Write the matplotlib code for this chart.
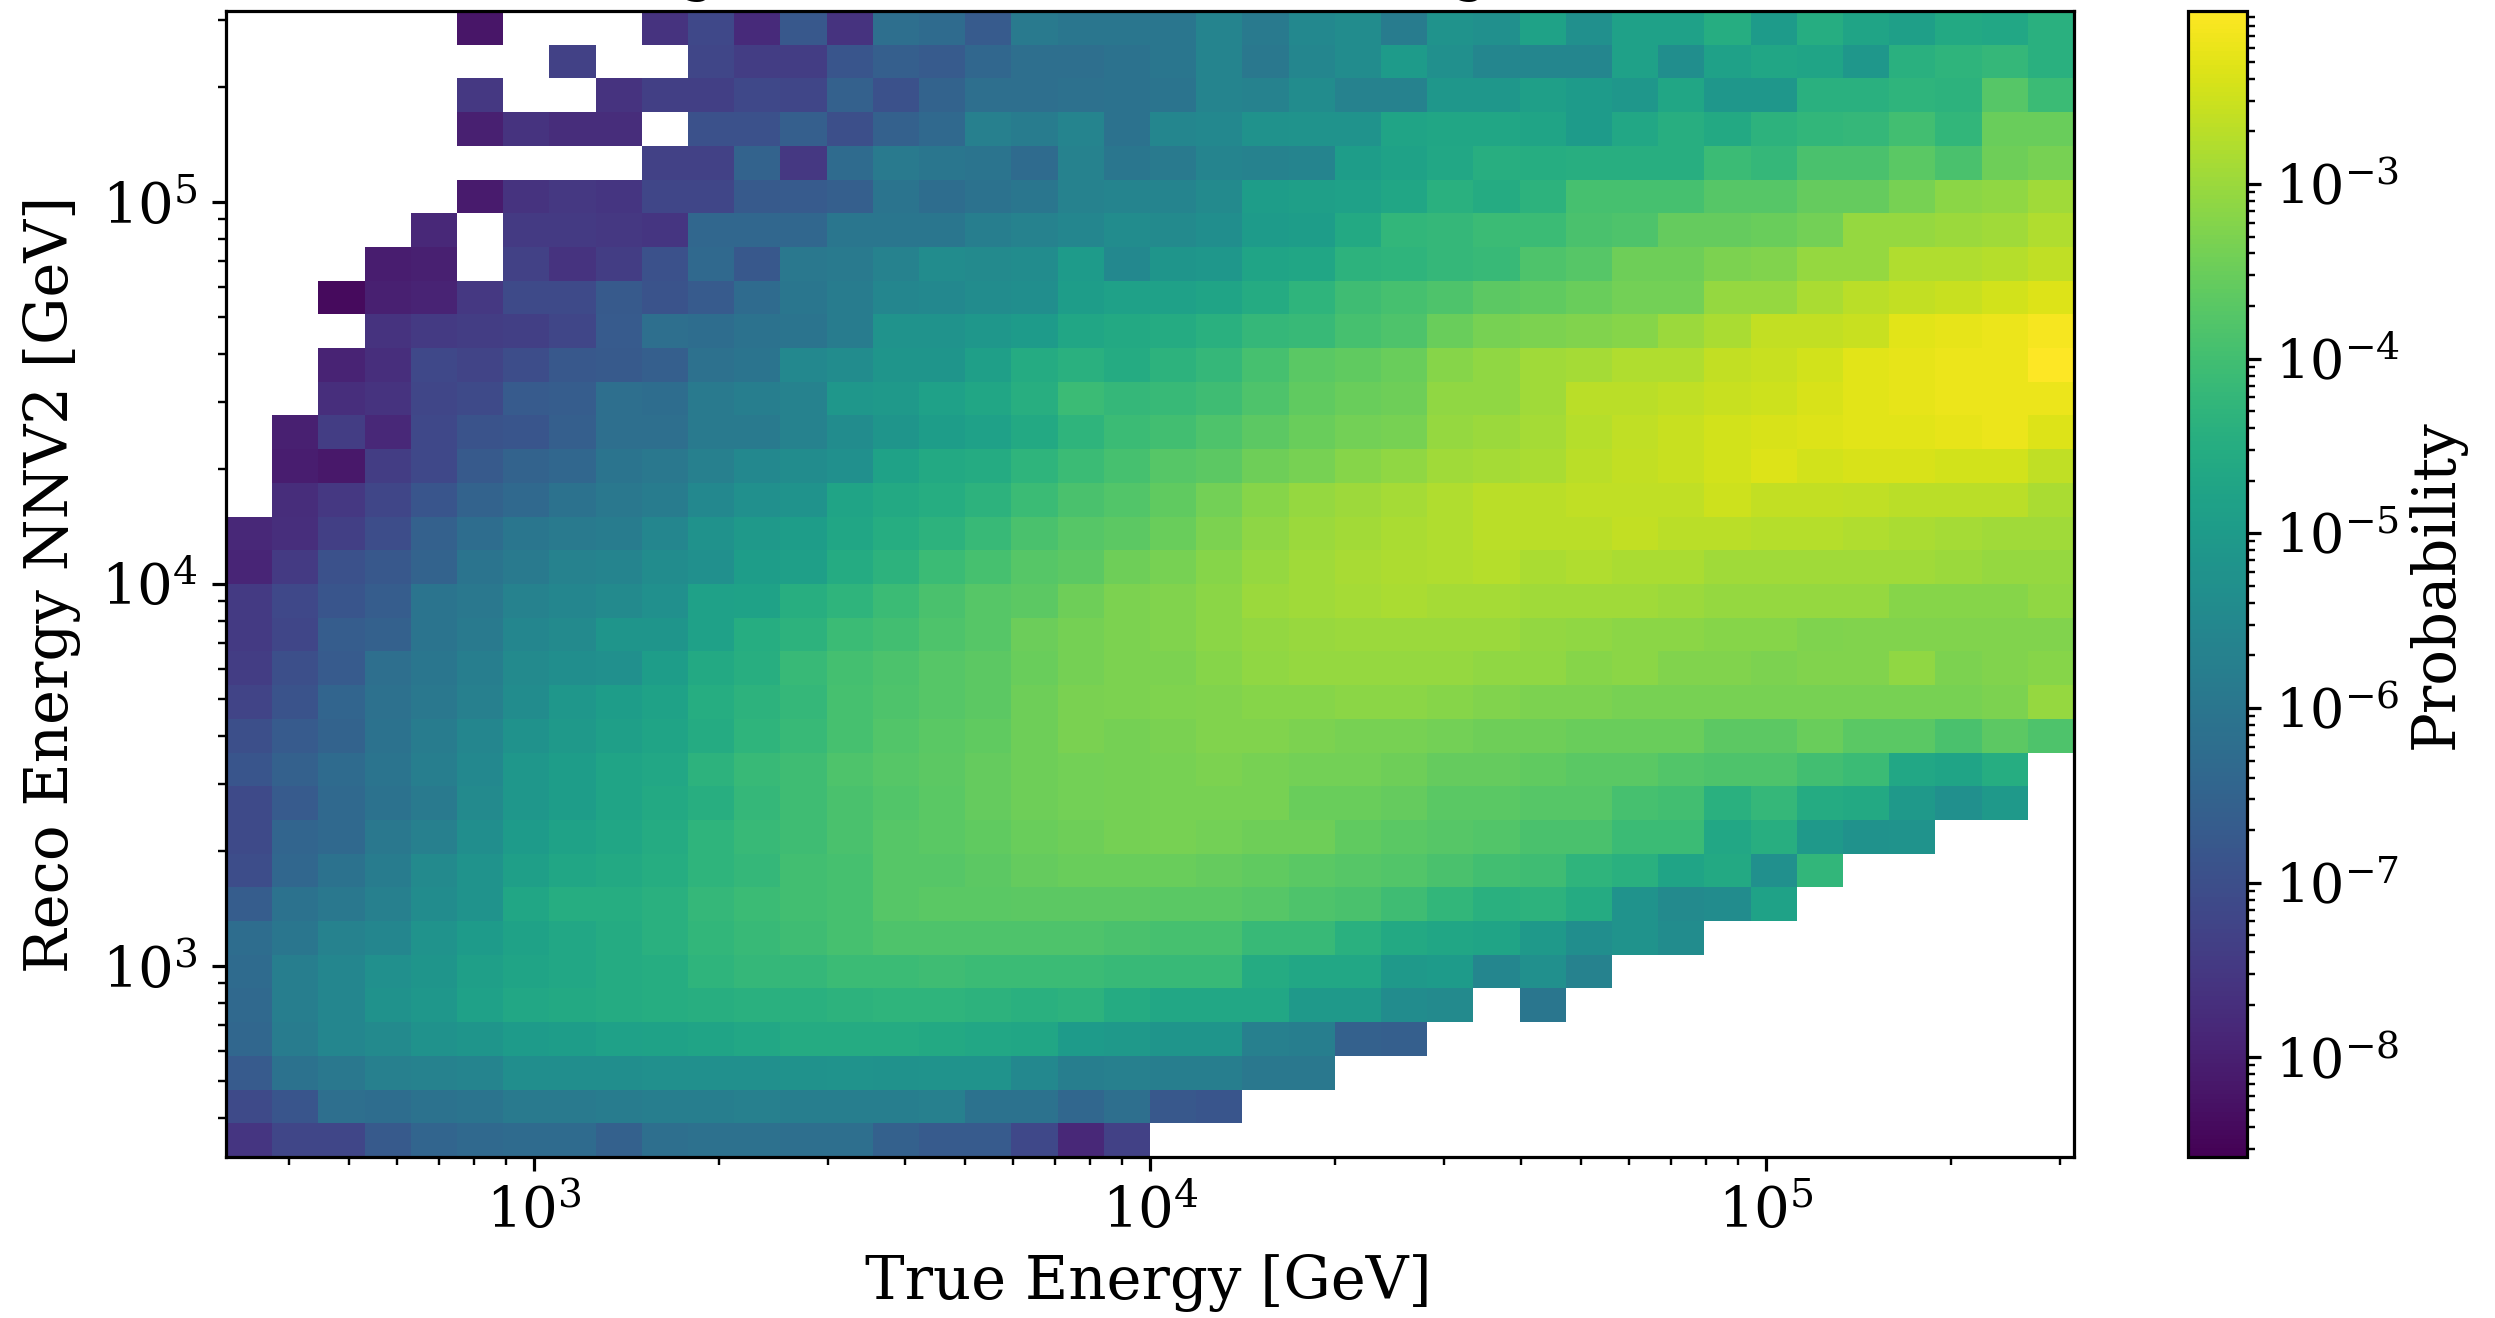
import numpy as np
import matplotlib
matplotlib.use("Agg")
import matplotlib.pyplot as plt
from matplotlib.colors import LogNorm

N = None
# log10(probability) read per cell; rows run from the lowest reco-energy bin up
r00 = [-7.55,-7.2,-7.2,-6.75,-6.45,-6.35,-6.3,-6.3,-6.55,-6.2,-6.15,-6.15,-6.2,-6.2,-6.55,-6.7,-6.7,-7.15,-7.85,-7.3,N,N,N,N,N,N,N,N,N,N,N,N,N,N,N,N,N,N,N,N]
r01 = [-7.1,-6.85,-6.2,-6.25,-6.1,-6.05,-5.9,-5.9,-5.85,-5.8,-5.8,-5.75,-5.8,-5.8,-5.8,-5.75,-6.1,-6.1,-6.4,-6.2,-6.8,-6.85,N,N,N,N,N,N,N,N,N,N,N,N,N,N,N,N,N,N]
r02 = [-6.7,-6.1,-5.95,-5.75,-5.7,-5.6,-5.35,-5.35,-5.35,-5.3,-5.3,-5.3,-5.25,-5.2,-5.25,-5.2,-5.2,-5.5,-5.8,-5.75,-5.8,-5.8,-5.95,-5.95,N,N,N,N,N,N,N,N,N,N,N,N,N,N,N,N]
r03 = [-6.4,-5.85,-5.55,-5.45,-5.25,-5.15,-5.0,-4.95,-4.85,-4.8,-4.75,-4.65,-4.55,-4.55,-4.55,-4.6,-4.65,-4.7,-5.0,-5.05,-5.15,-5.15,-5.75,-5.8,-6.55,-6.6,N,N,N,N,N,N,N,N,N,N,N,N,N,N]
r04 = [-6.35,-5.8,-5.55,-5.25,-5.1,-4.85,-4.65,-4.6,-4.55,-4.5,-4.45,-4.4,-4.4,-4.35,-4.3,-4.3,-4.35,-4.4,-4.35,-4.55,-4.65,-4.65,-4.65,-5.05,-5.05,-5.4,-5.45,N,-6.0,N,N,N,N,N,N,N,N,N,N,N]
r05 = [-6.3,-5.8,-5.55,-5.3,-5.15,-4.9,-4.75,-4.65,-4.55,-4.5,-4.3,-4.2,-4.2,-4.1,-4.1,-4.05,-4.1,-4.1,-4.1,-4.15,-4.15,-4.15,-4.55,-4.65,-4.65,-5.05,-5.0,-5.55,-5.3,-5.65,N,N,N,N,N,N,N,N,N,N]
r06 = [-6.25,-6.0,-5.7,-5.55,-5.2,-5.0,-4.8,-4.65,-4.55,-4.4,-4.25,-4.15,-4.05,-3.95,-3.85,-3.85,-3.85,-3.85,-3.85,-3.9,-3.95,-3.95,-4.15,-4.15,-4.4,-4.6,-4.7,-4.75,-5.05,-5.35,-5.2,-5.4,N,N,N,N,N,N,N,N]
r07 = [-6.65,-6.1,-5.95,-5.75,-5.4,-5.2,-4.7,-4.5,-4.5,-4.4,-4.2,-4.1,-4.0,-3.95,-3.75,-3.7,-3.7,-3.65,-3.65,-3.65,-3.7,-3.7,-3.75,-3.85,-3.9,-4.05,-4.25,-4.4,-4.35,-4.55,-5.2,-5.45,-5.4,-4.8,N,N,N,N,N,N]
r08 = [-7.05,-6.4,-6.1,-5.85,-5.45,-5.2,-4.9,-4.7,-4.6,-4.5,-4.3,-4.2,-4.0,-3.95,-3.75,-3.75,-3.65,-3.55,-3.5,-3.5,-3.5,-3.55,-3.6,-3.7,-3.75,-3.8,-3.9,-4.0,-4.05,-4.3,-4.4,-4.75,-4.6,-5.3,-4.25,N,N,N,N,N]
r09 = [-7.1,-6.45,-6.35,-5.95,-5.75,-5.35,-5.0,-4.8,-4.7,-4.55,-4.3,-4.15,-4.05,-3.9,-3.75,-3.7,-3.6,-3.5,-3.45,-3.38,-3.35,-3.4,-3.45,-3.45,-3.6,-3.7,-3.75,-3.8,-3.9,-3.9,-4.1,-4.1,-4.65,-4.45,-5.05,-5.25,-5.2,N,N,N]
r10 = [-7.1,-6.7,-6.35,-6.1,-5.9,-5.45,-5.1,-4.95,-4.75,-4.6,-4.45,-4.2,-4.05,-3.9,-3.8,-3.7,-3.55,-3.45,-3.4,-3.38,-3.35,-3.35,-3.35,-3.5,-3.5,-3.55,-3.7,-3.7,-3.75,-3.75,-3.95,-4.0,-4.4,-4.2,-4.55,-4.6,-5.05,-5.3,-5.05,N]
r11 = [-6.85,-6.55,-6.3,-6.05,-5.8,-5.5,-5.1,-4.95,-4.75,-4.65,-4.35,-4.15,-4.05,-3.85,-3.75,-3.65,-3.55,-3.45,-3.4,-3.38,-3.35,-3.3,-3.35,-3.4,-3.4,-3.45,-3.55,-3.55,-3.6,-3.7,-3.7,-3.8,-3.85,-3.85,-4.0,-4.1,-4.65,-4.75,-4.5,N]
r12 = [-7.0,-6.7,-6.5,-6.1,-5.85,-5.55,-5.25,-5.05,-4.9,-4.75,-4.55,-4.3,-4.15,-3.95,-3.8,-3.7,-3.6,-3.45,-3.33,-3.38,-3.32,-3.25,-3.25,-3.3,-3.35,-3.35,-3.4,-3.45,-3.45,-3.5,-3.5,-3.5,-3.65,-3.65,-3.5,-3.7,-3.7,-3.9,-3.65,-3.85]
r13 = [-7.25,-6.9,-6.45,-6.15,-5.95,-5.75,-5.4,-5.1,-4.95,-4.8,-4.5,-4.35,-4.2,-3.95,-3.85,-3.75,-3.65,-3.47,-3.33,-3.3,-3.28,-3.25,-3.2,-3.2,-3.15,-3.15,-3.2,-3.25,-3.3,-3.3,-3.35,-3.35,-3.35,-3.35,-3.35,-3.35,-3.35,-3.35,-3.3,-3.05]
r14 = [-7.4,-7.0,-6.7,-6.2,-6.0,-5.8,-5.45,-5.35,-5.3,-4.95,-4.6,-4.45,-4.15,-3.98,-3.88,-3.73,-3.65,-3.5,-3.38,-3.3,-3.3,-3.2,-3.1,-3.05,-3.05,-3.05,-3.05,-3.1,-3.1,-3.2,-3.15,-3.25,-3.25,-3.3,-3.25,-3.25,-3.1,-3.3,-3.25,-3.2]
r15 = [-7.45,-7.2,-6.65,-6.55,-6.05,-5.9,-5.55,-5.45,-5.15,-5.15,-4.85,-4.5,-4.35,-4.1,-4.0,-3.85,-3.75,-3.48,-3.38,-3.3,-3.25,-3.15,-3.07,-3.03,-3.0,-3.0,-3.0,-3.0,-3.07,-3.1,-3.15,-3.15,-3.2,-3.2,-3.27,-3.25,-3.25,-3.25,-3.25,-3.25]
r16 = [-7.45,-7.15,-6.85,-6.65,-6.05,-5.95,-5.7,-5.55,-5.45,-5.3,-4.85,-4.8,-4.45,-4.3,-4.1,-3.9,-3.75,-3.65,-3.45,-3.3,-3.25,-3.15,-3.0,-2.95,-2.9,-2.85,-2.9,-2.9,-2.95,-2.95,-2.95,-3.0,-3.05,-3.05,-3.05,-3.05,-3.2,-3.2,-3.2,-3.1]
r17 = [-7.9,-7.45,-6.95,-6.8,-6.5,-6.05,-5.9,-5.65,-5.6,-5.4,-5.3,-4.95,-4.9,-4.55,-4.35,-4.1,-3.95,-3.75,-3.65,-3.45,-3.35,-3.2,-3.05,-2.95,-2.88,-2.83,-2.78,-2.75,-2.85,-2.8,-2.85,-2.85,-2.95,-2.95,-2.95,-2.95,-2.95,-3.0,-3.05,-3.05]
r18 = [-7.85,-7.7,-7.35,-7.05,-6.55,-6.25,-6.0,-5.9,-5.85,-5.55,-5.25,-5.05,-4.95,-4.7,-4.5,-4.35,-4.15,-3.9,-3.75,-3.65,-3.5,-3.3,-3.12,-3.0,-2.92,-2.85,-2.8,-2.7,-2.7,-2.7,-2.6,-2.7,-2.7,-2.75,-2.75,-2.8,-2.85,-2.9,-2.95,-2.95]
r19 = [N,-7.75,-7.5,-7.2,-6.85,-6.5,-6.35,-6.1,-5.95,-5.85,-5.5,-5.3,-5.2,-4.75,-4.6,-4.5,-4.35,-4.1,-3.9,-3.8,-3.6,-3.4,-3.2,-3.05,-2.98,-2.9,-2.8,-2.68,-2.68,-2.65,-2.65,-2.65,-2.5,-2.6,-2.6,-2.65,-2.7,-2.7,-2.7,-2.85]
r20 = [N,-8.05,-8.15,-7.4,-7.15,-6.75,-6.5,-6.4,-6.05,-5.95,-5.75,-5.5,-5.4,-5.3,-4.8,-4.6,-4.55,-4.3,-4.1,-3.95,-3.75,-3.65,-3.45,-3.35,-3.2,-3.1,-2.95,-2.9,-2.85,-2.7,-2.6,-2.55,-2.45,-2.35,-2.45,-2.4,-2.4,-2.45,-2.45,-2.65]
r21 = [N,-8.0,-7.4,-7.85,-7.15,-6.9,-6.85,-6.6,-6.2,-6.2,-5.9,-5.9,-5.7,-5.4,-5.15,-4.95,-4.85,-4.6,-4.3,-4.1,-4.0,-3.85,-3.65,-3.5,-3.4,-3.35,-3.05,-3.0,-2.9,-2.75,-2.65,-2.55,-2.45,-2.4,-2.35,-2.3,-2.3,-2.25,-2.2,-2.35]
r22 = [N,N,-7.7,-7.6,-7.2,-7.1,-6.7,-6.65,-6.2,-6.25,-5.9,-5.8,-5.7,-5.1,-5.05,-4.85,-4.7,-4.45,-4.1,-4.2,-4.15,-4.05,-3.85,-3.6,-3.5,-3.45,-3.1,-3.1,-2.95,-2.7,-2.7,-2.65,-2.55,-2.5,-2.4,-2.3,-2.25,-2.2,-2.2,-2.2]
r23 = [N,N,-7.95,-7.7,-7.15,-7.25,-7.05,-6.8,-6.75,-6.6,-6.15,-6.05,-5.5,-5.4,-5.15,-5.15,-4.9,-4.55,-4.4,-4.55,-4.35,-4.2,-3.95,-3.7,-3.6,-3.5,-3.2,-3.1,-2.95,-2.9,-2.8,-2.8,-2.6,-2.55,-2.45,-2.3,-2.25,-2.2,-2.2,-2.01]
r24 = [N,N,N,-7.6,-7.45,-7.4,-7.35,-7.2,-6.7,-6.2,-6.25,-6.1,-6.05,-5.85,-5.2,-5.2,-5.1,-5.0,-4.7,-4.6,-4.55,-4.4,-4.2,-4.15,-3.95,-3.85,-3.5,-3.35,-3.3,-3.25,-3.2,-3.0,-2.85,-2.6,-2.6,-2.55,-2.3,-2.25,-2.2,-2.1]
r25 = [N,N,-8.4,-8.0,-7.95,-7.5,-7.1,-7.1,-6.75,-6.9,-6.7,-6.3,-6.0,-5.85,-5.55,-5.5,-5.4,-5.35,-4.95,-4.85,-4.85,-4.75,-4.55,-4.3,-4.05,-3.95,-3.85,-3.65,-3.6,-3.5,-3.4,-3.4,-3.05,-3.05,-2.85,-2.7,-2.6,-2.55,-2.45,-2.35]
r26 = [N,N,N,-8.05,-8.0,N,-7.3,-7.6,-7.4,-6.95,-6.35,-6.8,-5.95,-5.9,-5.7,-5.4,-5.45,-5.4,-5.0,-5.5,-5.15,-5.1,-4.75,-4.7,-4.35,-4.3,-4.2,-4.15,-3.85,-3.75,-3.45,-3.45,-3.3,-3.25,-3.05,-3.05,-2.8,-2.8,-2.75,-2.65]
r27 = [N,N,N,N,-7.85,N,-7.45,-7.45,-7.5,-7.55,-6.4,-6.4,-6.4,-6.0,-6.0,-6.0,-5.8,-5.65,-5.55,-5.4,-5.45,-5.35,-5.0,-4.95,-4.6,-4.25,-4.2,-4.1,-4.1,-3.9,-3.85,-3.55,-3.55,-3.5,-3.4,-3.05,-3.05,-3.0,-2.95,-2.8]
r28 = [N,N,N,N,N,-8.1,-7.6,-7.5,-7.55,-7.2,-7.2,-6.75,-6.7,-6.6,-6.05,-6.25,-6.1,-6.0,-5.65,-5.6,-5.6,-5.45,-4.95,-4.9,-4.85,-4.7,-4.4,-4.55,-4.35,-3.95,-3.95,-3.95,-3.75,-3.75,-3.55,-3.55,-3.35,-3.15,-3.1,-2.95]
r29 = [N,N,N,N,N,N,N,N,N,-7.3,-7.3,-6.5,-7.5,-6.3,-5.9,-6.0,-6.05,-6.3,-5.7,-6.0,-5.9,-5.6,-5.65,-5.6,-4.95,-4.8,-4.65,-4.45,-4.5,-4.45,-4.45,-4.45,-4.1,-4.2,-3.9,-3.9,-3.7,-3.9,-3.45,-3.35]
r30 = [N,N,N,N,N,-8.0,-7.6,-7.75,-7.75,N,-6.95,-6.95,-6.6,-7.0,-6.55,-6.35,-5.75,-5.85,-5.6,-6.1,-5.55,-5.5,-5.25,-5.2,-5.2,-4.75,-4.7,-4.7,-4.75,-5.0,-4.65,-4.45,-4.6,-4.35,-4.25,-4.2,-4.0,-4.25,-3.5,-3.5]
r31 = [N,N,N,N,N,-7.5,N,N,-7.6,-7.35,-7.35,-7.15,-7.2,-6.55,-6.95,-6.5,-6.2,-6.2,-6.15,-6.1,-6.05,-5.6,-5.7,-5.4,-5.65,-5.65,-5.1,-5.1,-4.9,-5.0,-5.1,-4.7,-5.1,-5.1,-4.4,-4.4,-4.3,-4.35,-3.75,-4.1]
r32 = [N,N,N,N,N,N,N,-7.3,N,N,-7.2,-7.4,-7.4,-6.85,-6.6,-6.7,-6.4,-6.2,-6.2,-6.1,-6.0,-5.6,-5.95,-5.55,-5.4,-5.0,-5.3,-5.55,-5.55,-5.55,-4.85,-5.35,-4.85,-4.7,-4.75,-5.1,-4.4,-4.3,-4.2,-4.4]
r33 = [N,N,N,N,N,-8.2,N,N,N,-7.6,-7.15,-7.8,-6.8,-7.6,-6.2,-6.3,-6.7,-5.9,-6.0,-6.0,-6.0,-5.6,-5.9,-5.5,-5.4,-5.85,-5.2,-5.3,-4.8,-5.3,-4.85,-4.85,-4.5,-5.0,-4.5,-4.75,-4.9,-4.6,-4.65,-4.4]
log_prob_rows = [r00,r01,r02,r03,r04,r05,r06,r07,r08,r09,r10,r11,r12,r13,r14,r15,r16,r17,r18,r19,r20,r21,r22,r23,r24,r25,r26,r27,r28,r29,r30,r31,r32,r33]

x_label = "True Energy [GeV]"
y_label = "Reco Energy NNV2 [GeV]"
cbar_label = "Probability"

W, H, DPI = 2495, 1318, 288
plt.rcParams["font.family"] = "DejaVu Serif"
plt.rcParams["mathtext.fontset"] = "dejavuserif"
fs_tick = 14
fs_label = 14.8

prob = np.ma.masked_invalid(10.0 ** np.array(log_prob_rows, dtype=float))
x_edges = np.logspace(2.5, 5.5, prob.shape[1] + 1)
y_edges = np.logspace(2.5, 5.5, prob.shape[0] + 1)

fig = plt.figure(figsize=(W / DPI, H / DPI), dpi=DPI)
def box(l, t, r, b):
    return [l / W, 1 - b / H, (r - l) / W, (b - t) / H]
ax = fig.add_axes(box(226, 11, 2074, 1157))
cax = fig.add_axes(box(2188, 11, 2247, 1157))

mesh = ax.pcolormesh(x_edges, y_edges, prob, cmap="viridis",
                     norm=LogNorm(vmin=10 ** -8.57, vmax=10 ** -2.01))
ax.set_xscale("log")
ax.set_yscale("log")
ax.set_xlim(x_edges[0], x_edges[-1])
ax.set_ylim(y_edges[0], y_edges[-1])
ax.tick_params(labelsize=fs_tick)
ax.set_xlabel(x_label, fontsize=fs_label)
ax.set_ylabel(y_label, fontsize=fs_label)
ax.xaxis.set_label_coords(0.499, -0.085)
ax.yaxis.set_label_coords((81 - 226) / 1848, 0.5)

cb = fig.colorbar(mesh, cax=cax)
cb.ax.tick_params(labelsize=13.5)
cb.set_label(cbar_label, fontsize=fs_label)
cb.ax.yaxis.set_label_coords(3.71, 0.5)

# only the descenders of a title above the canvas are visible: two letters g
for gx in (698, 1470):
    fig.text(gx / W, 1 + 10 / H, "g", fontsize=fs_tick, ha="center", va="baseline")

fig.savefig("out.png", dpi=DPI)
